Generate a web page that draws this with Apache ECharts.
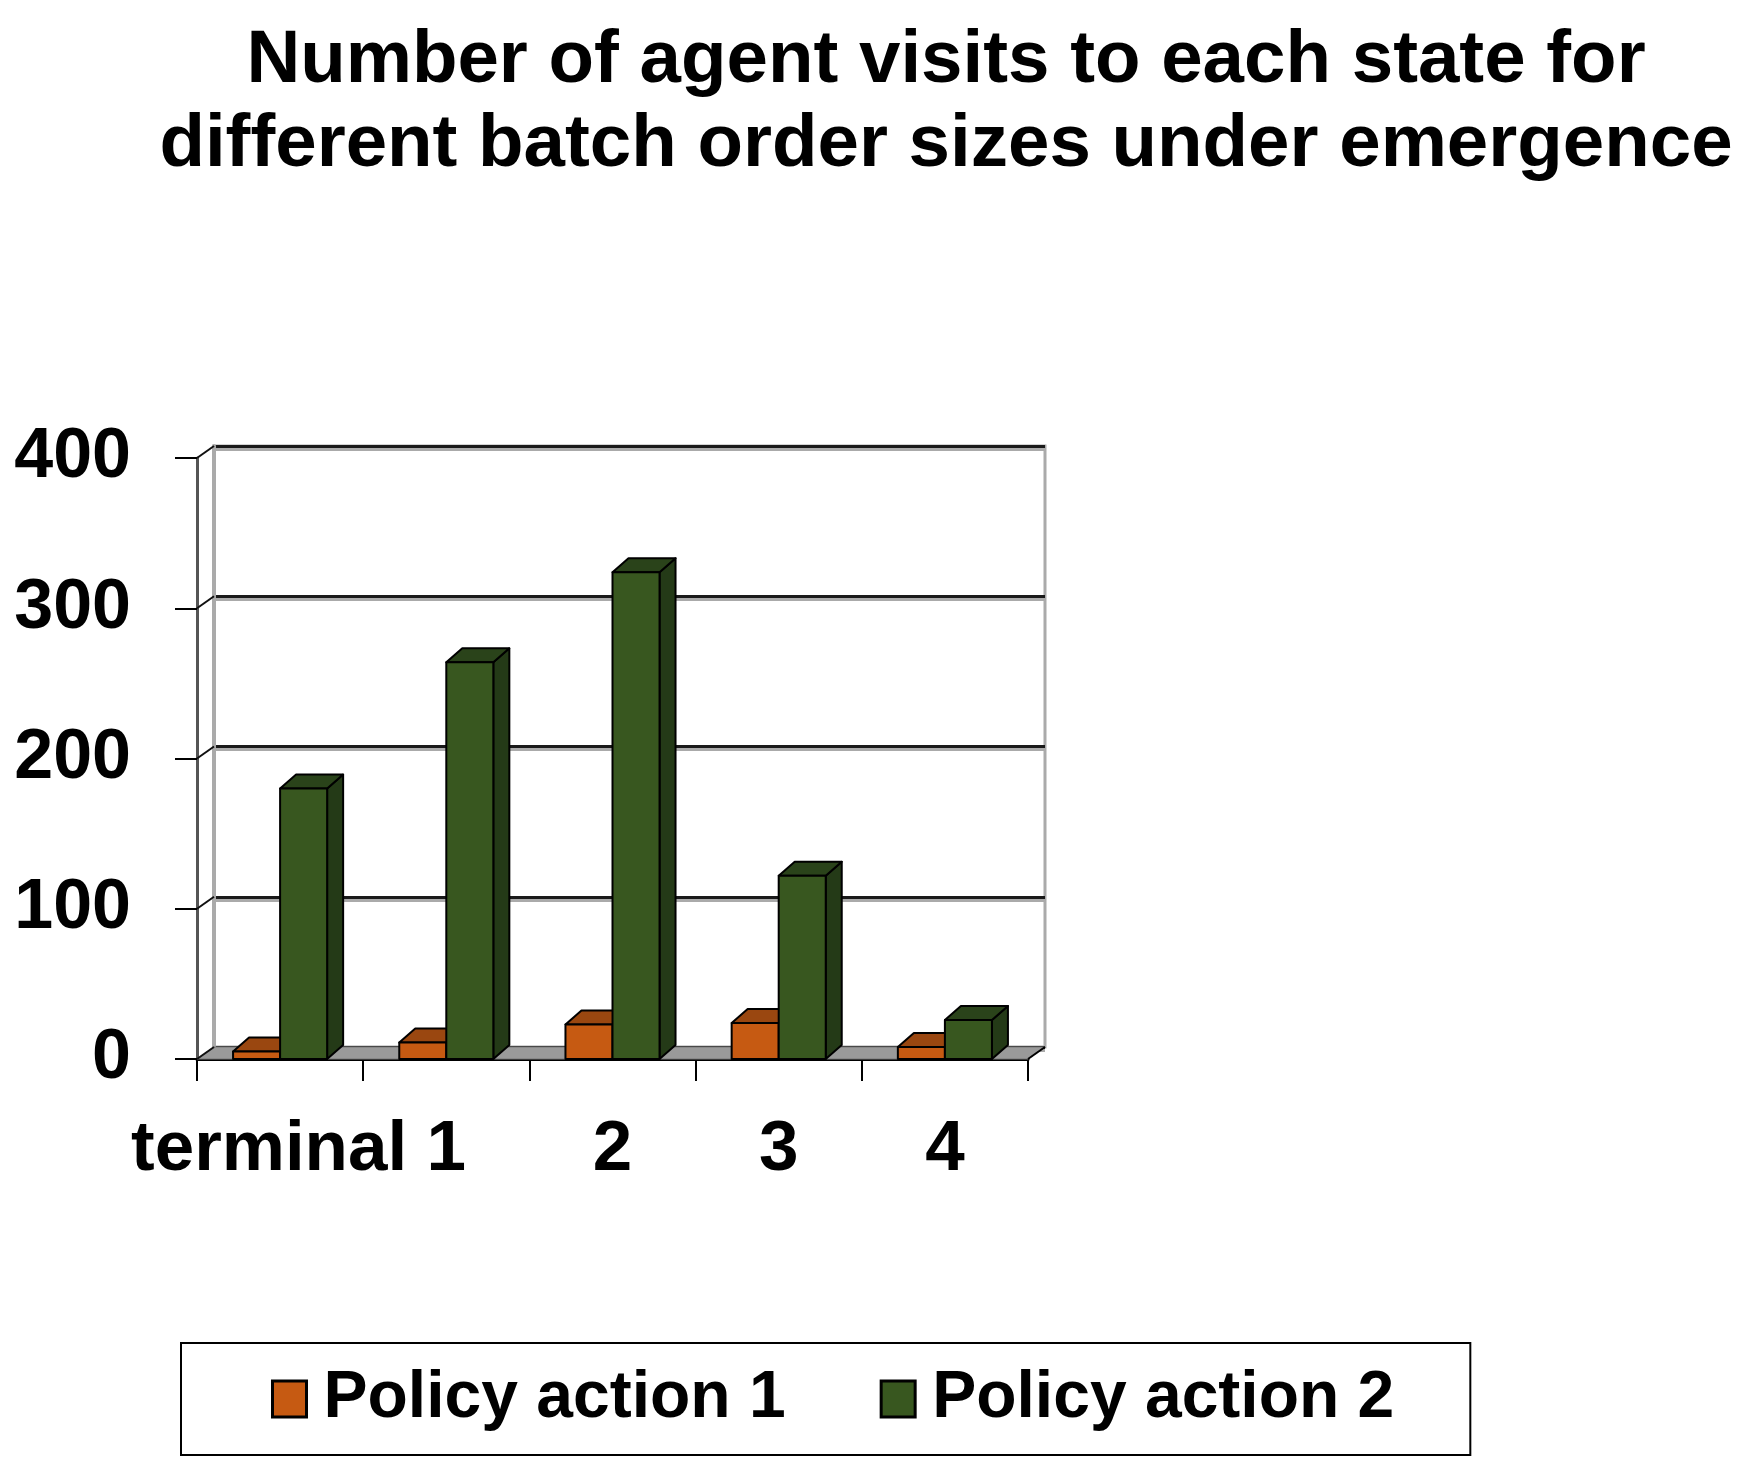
<!DOCTYPE html>
<html>
<head>
<meta charset="utf-8">
<title>Number of agent visits to each state</title>
<script src="https://cdn.jsdelivr.net/npm/echarts@6/dist/echarts.min.js"></script>
<style>
  html, body { margin: 0; padding: 0; background: #fff; }
  #chart { width: 1743px; height: 1476px; }
</style>
</head>
<body>
<div id="chart"></div>
<script>
// values
const categories = ['terminal', '1', '2', '3', '4']
const policyAction1 = [5, 11, 23, 24, 8]
const policyAction2 = [180, 264, 324, 122, 26]
const yTicks = [0, 100, 200, 300, 400]
const seriesNames = ['Policy action 1', 'Policy action 2']

const FONT = "'Liberation Sans', Arial, sans-serif"
// depth offset of the pseudo 3d box
const WALL_DX = 17
const WALL_DY = -12
const BAR_DX = 16
const BAR_DY = -14
const BAR_RATIO = 0.283

const orange = { front: '#c65a12', top: '#9a4710', side: '#7a3508' }
const green = { front: '#38571f', top: '#2a431a', side: '#243a17' }

function barRenderer (colors, side) {
  return function (params, api) {
    const i = api.value(0)
    const top = api.coord([i, api.value(1)])
    const base = api.coord([i, 0])
    const w = api.size([1, 0])[0] * BAR_RATIO
    const x0 = side < 0 ? top[0] - w : top[0]
    const x1 = x0 + w
    const yt = top[1]
    const yb = base[1]
    const stroke = { stroke: '#000', lineWidth: 2, lineJoin: 'round' }
    return {
      type: 'group',
      children: [{
        type: 'polygon',
        shape: { points: [[x1, yt], [x1 + BAR_DX, yt + BAR_DY], [x1 + BAR_DX, yb + BAR_DY], [x1, yb]] },
        style: Object.assign({ fill: colors.side }, stroke)
      }, {
        type: 'polygon',
        shape: { points: [[x0, yt], [x1, yt], [x1 + BAR_DX, yt + BAR_DY], [x0 + BAR_DX, yt + BAR_DY]] },
        style: Object.assign({ fill: colors.top }, stroke)
      }, {
        type: 'rect',
        shape: { x: x0, y: yt, width: w, height: yb - yt },
        style: Object.assign({ fill: colors.front }, stroke)
      }]
    }
  }
}

// floor and the little diagonal joints from front ticks to the back wall
function frameRenderer (params, api) {
  const cs = params.coordSys
  const p = api.coord([0, api.value(1)])
  const y = p[1]
  const children = []
  if (api.value(1) === 0) {
    const xr = cs.x + cs.width
    children.push({
      type: 'polygon',
      shape: { points: [[cs.x, y], [xr, y], [xr + WALL_DX, y + WALL_DY], [cs.x + WALL_DX, y + WALL_DY]] },
      style: { fill: '#9a9a9a', stroke: '#777', lineWidth: 1 }
    })
    children.push({
      type: 'line',
      shape: { x1: xr, y1: y, x2: xr + WALL_DX, y2: y + WALL_DY },
      style: { stroke: '#000', lineWidth: 2 }
    })
  }
  children.push({
    type: 'line',
    shape: { x1: cs.x, y1: y, x2: cs.x + WALL_DX, y2: y + WALL_DY },
    style: { stroke: '#111', lineWidth: 2 }
  })
  return { type: 'group', children: children }
}

const chart = echarts.init(document.getElementById('chart'))

chart.setOption({
  animation: false,
  backgroundColor: '#fff',
  title: {
    text: 'Number of agent visits to each state for\ndifferent batch order sizes under emergence',
    left: 941,
    top: 14,
    textAlign: 'center',
    textStyle: {
      fontFamily: FONT,
      fontWeight: 'bold',
      fontSize: 74.5,
      lineHeight: 84,
      color: '#000'
    }
  },
  legend: {
    data: seriesNames,
    left: 181,
    top: 1343,
    orient: 'horizontal',
    padding: [21, 76, 21, 90],
    itemGap: 94,
    itemWidth: 34,
    itemHeight: 36,
    icon: 'rect',
    borderColor: '#000',
    borderWidth: 2,
    itemStyle: { borderColor: '#000', borderWidth: 3 },
    textStyle: {
      fontFamily: FONT,
      fontWeight: 'bold',
      fontSize: 66,
      lineHeight: 70,
      color: '#000',
      padding: [0, 0, 0, 12]
    }
  },
  grid: [{
    // front plane
    left: 197,
    top: 458,
    width: 831,
    height: 601
  }, {
    // back wall
    left: 197 + WALL_DX,
    top: 458 + WALL_DY,
    width: 831,
    height: 601,
    show: true,
    backgroundColor: '#fff',
    borderColor: '#aaa',
    borderWidth: 3
  }],
  xAxis: [{
    gridIndex: 0,
    type: 'category',
    // the first label sits a little left, as in the original
    data: categories.map((c, i) => i === 0 ? { value: c, textStyle: { padding: [0, 22, 0, 0] } } : c),
    boundaryGap: true,
    axisLine: { lineStyle: { color: '#000', width: 3 } },
    axisTick: { show: true, length: 22, lineStyle: { color: '#000', width: 2 } },
    axisLabel: {
      interval: 0,
      margin: 56,
      fontFamily: FONT,
      fontWeight: 'bold',
      fontSize: 71,
      color: '#000'
    },
    splitLine: { show: false }
  }, {
    gridIndex: 1,
    type: 'category',
    data: categories,
    show: false
  }],
  yAxis: [{
    gridIndex: 0,
    type: 'value',
    min: 0,
    max: 400,
    interval: 100,
    axisLine: { show: true, lineStyle: { color: '#555', width: 3 } },
    axisTick: { show: true, length: 22, lineStyle: { color: '#000', width: 2 } },
    axisLabel: {
      margin: 66,
      fontFamily: FONT,
      fontWeight: 'bold',
      fontSize: 70,
      color: '#000'
    },
    splitLine: { show: false }
  }, {
    gridIndex: 1,
    type: 'value',
    min: 0,
    max: 400,
    interval: 100,
    axisLine: { show: true, lineStyle: { color: '#aaa', width: 4 } },
    axisTick: { show: false },
    axisLabel: { show: false },
    splitLine: {
      show: true,
      lineStyle: { color: '#1a1a1a', width: 3, shadowColor: '#aaa', shadowOffsetY: 3, shadowBlur: 0 }
    }
  }],
  series: [{
    name: 'frame',
    type: 'custom',
    xAxisIndex: 0,
    yAxisIndex: 0,
    silent: true,
    renderItem: frameRenderer,
    data: yTicks.map(v => [0, v])
  }, {
    name: seriesNames[0],
    type: 'custom',
    xAxisIndex: 0,
    yAxisIndex: 0,
    itemStyle: { color: orange.front },
    renderItem: barRenderer(orange, -1),
    encode: { x: 0, y: 1 },
    data: policyAction1.map((v, i) => [i, v])
  }, {
    name: seriesNames[1],
    type: 'custom',
    xAxisIndex: 0,
    yAxisIndex: 0,
    itemStyle: { color: green.front },
    renderItem: barRenderer(green, 1),
    encode: { x: 0, y: 1 },
    data: policyAction2.map((v, i) => [i, v])
  }]
})

window.addEventListener('resize', () => chart.resize())
</script>
</body>
</html>
